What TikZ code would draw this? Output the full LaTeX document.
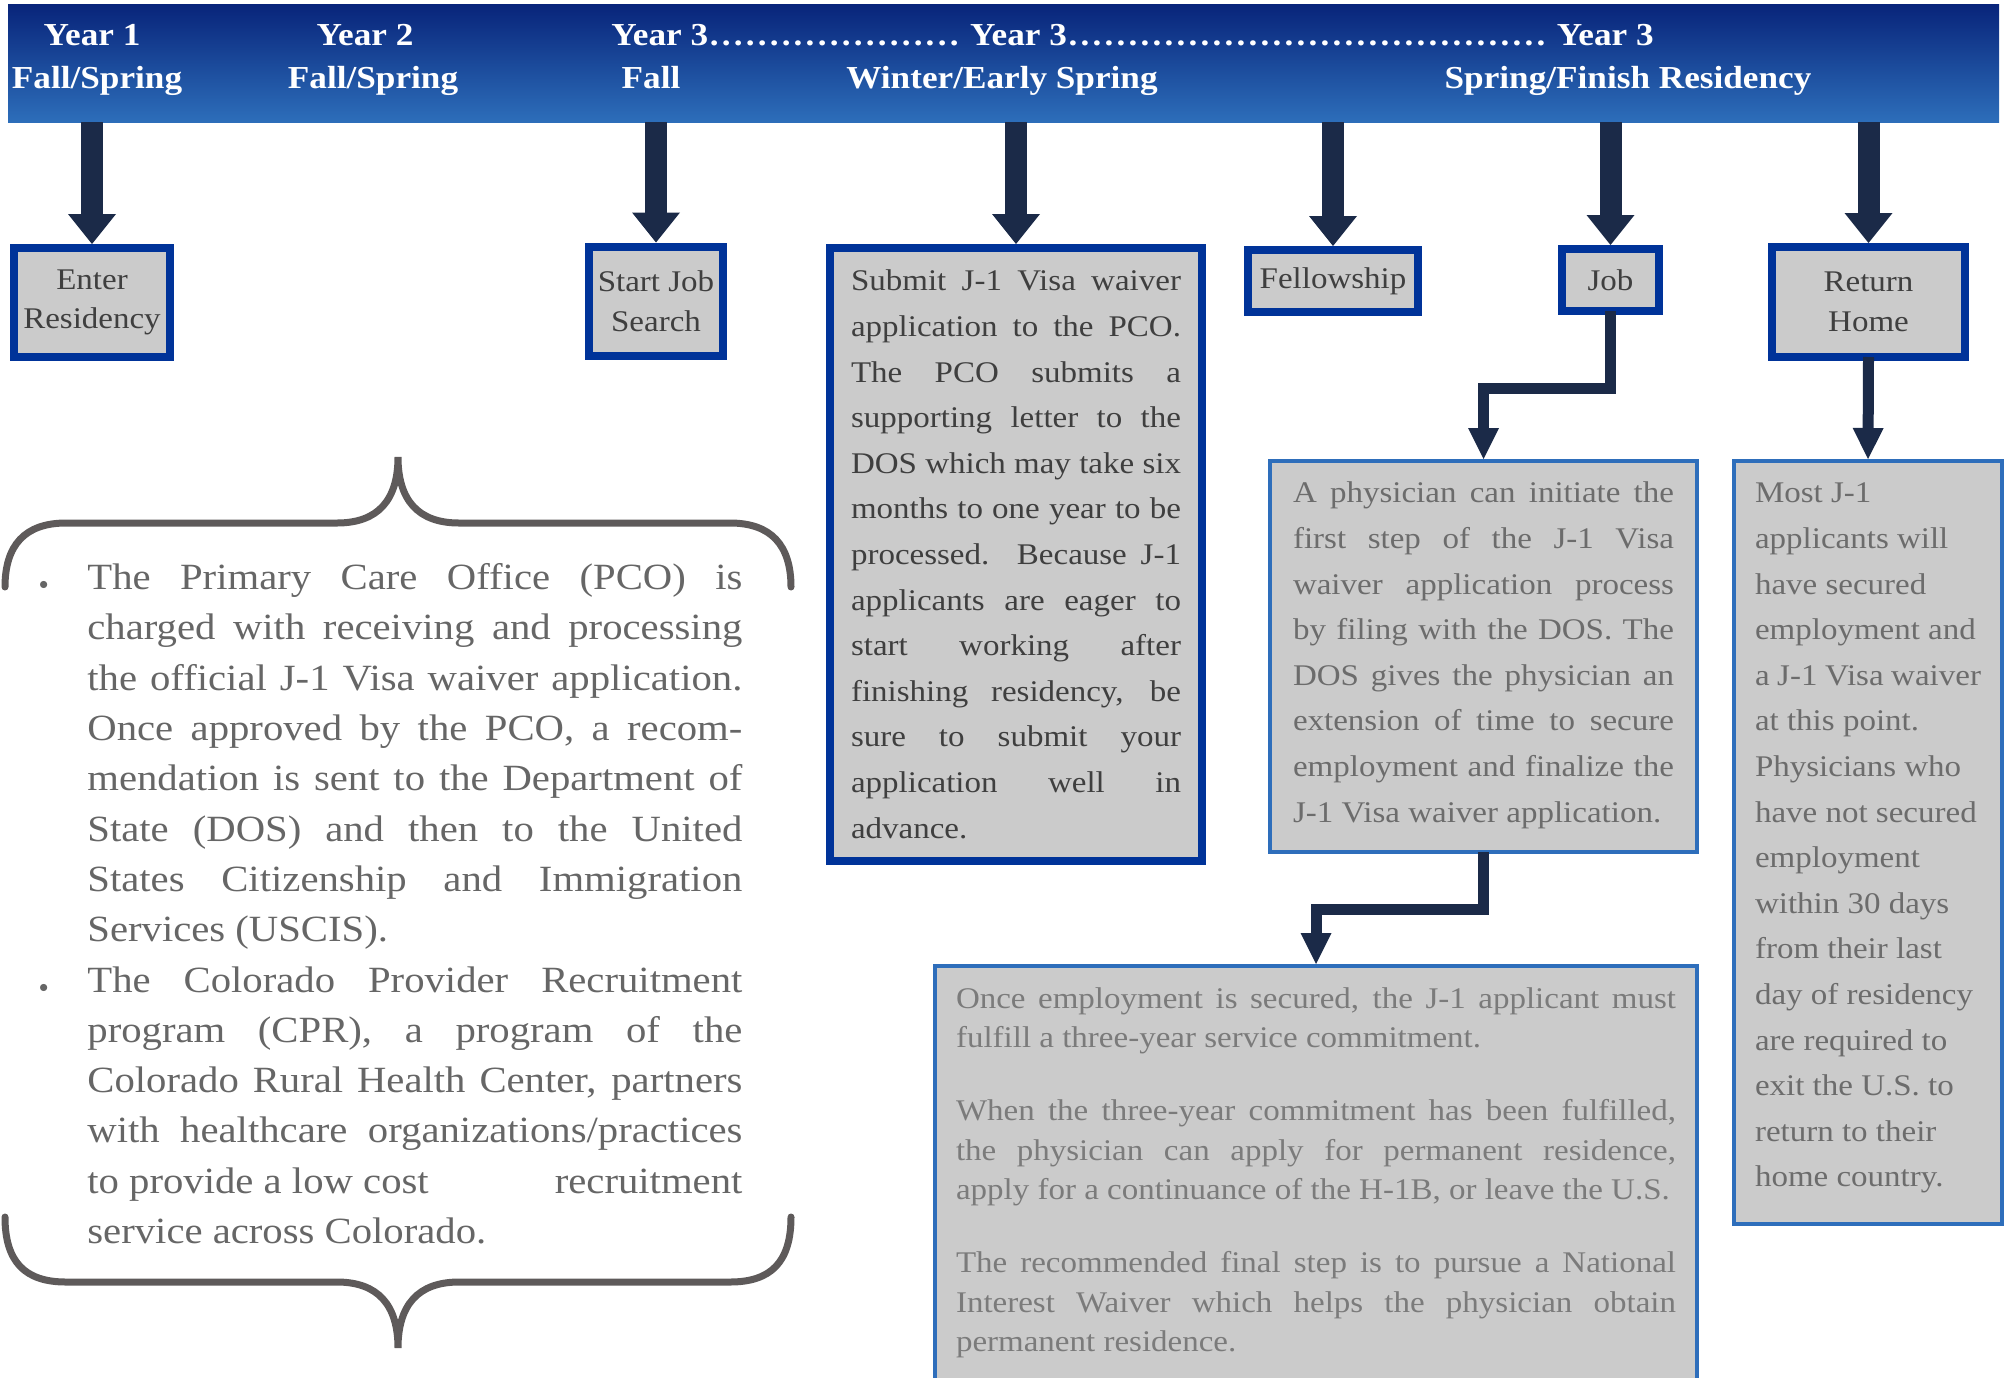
\documentclass[tikz,border=0pt]{standalone}
\usepackage{fontspec}
\setmainfont{Liberation Serif}[FakeStretch=1.1]
\usetikzlibrary{arrows.meta, calc}
\definecolor{navy}{HTML}{1B2A48}
\definecolor{boxblue}{HTML}{003399}
\definecolor{lightblue}{HTML}{2E6EBB}
\definecolor{boxgray}{HTML}{CBCBCB}
\definecolor{hdrtop}{HTML}{08247A}
\definecolor{hdrbot}{HTML}{2D6EBA}
\definecolor{bracegray}{HTML}{5E5A5A}
\definecolor{darktext}{HTML}{3F3F3F}
\definecolor{midtext}{HTML}{6C6C6C}
\definecolor{softtext}{HTML}{7B7B7B}
\definecolor{notetext}{HTML}{666666}
\tolerance=10000
\hyphenpenalty=10000
\exhyphenpenalty=10000
\newcommand\hdrdots[1]{\hbox to #1{\leaders\hbox to 6pt{\hss.\hss}\hfill}}
\newcommand\boxtxt[3]{\begin{minipage}[t][#2][t]{#1}\strut #3\end{minipage}}
\newcommand\smallbullet{${\scriptscriptstyle\bullet}$}

\begin{document}
\begin{tikzpicture}[x=0.5pt, y=0.5pt,
  hdr/.style={text=white, font=\fontsize{16}{16}\selectfont\bfseries, inner sep=0},
  bigbox/.style={draw=boxblue, line width=4pt, outer sep=0, fill=boxgray, text=darktext, align=center,
    font=\fontsize{15}{19.8}\selectfont, inner sep=0},
  tallbox/.style={draw=boxblue, line width=4pt, outer sep=0, fill=boxgray, text=darktext, anchor=north west,
    font=\fontsize{15}{22.8}\selectfont},
  txtbox/.style={draw=lightblue, line width=2pt, outer sep=0, fill=boxgray, text=midtext, anchor=north west,
    font=\fontsize{15}{22.8}\selectfont},
  bigarrow/.style={navy, line width=11pt, -{Triangle[width=24pt, length=15pt, line width=0pt]}, shorten >=2pt},
  elbow/.style={navy, line width=5.5pt, line join=miter, -{Triangle[width=15.5pt, length=15.5pt, line width=0pt]}, shorten >=1pt},
  brace/.style={bracegray, line width=3.5pt, line cap=round}]

\useasboundingbox (0,0) rectangle (2007,-1377);

% header bar
\node[shade, top color=hdrtop, bottom color=hdrbot, minimum width=995.5pt, minimum height=59pt, inner sep=0, outer sep=0] (bar) at (1003.5,-63) {};
\node[hdr, anchor=base] (y1) at (92,-45) {Year 1};
\node[hdr, anchor=base] (s1) at (97,-88) {Fall/Spring};
\node[hdr, anchor=base] (y2) at (365,-45) {Year 2};
\node[hdr, anchor=base] (s2) at (373,-88) {Fall/Spring};
\node[hdr, anchor=base west] (y3) at (611,-45) {Year 3\hdrdots{131pt}Year 3\hdrdots{245pt}Year 3};
\node[hdr, anchor=base] (s3) at (651,-88) {Fall};
\node[hdr, anchor=base] (s4) at (1002,-88) {Winter/Early Spring};
\node[hdr, anchor=base] (s5) at (1628,-88) {Spring/Finish Residency};

% steps
\node[bigbox, minimum width=78pt, minimum height=54.5pt] (enter) at (92,-302.5) {Enter\\Residency};
\node[bigbox, minimum width=67pt, minimum height=54.5pt] (jobsearch) at (656,-301) {Start Job\\Search};
\node[bigbox, minimum width=85pt, minimum height=31pt] (fellow) at (1333,-281) {Fellowship};
\node[bigbox, minimum width=48.5pt, minimum height=31pt] (job) at (1610.5,-280) {Job};
\node[bigbox, minimum width=96.5pt, minimum height=55pt] (home) at (1868.5,-302) {Return\\Home};

\node[tallbox, inner xsep=10.5pt, inner ysep=5.5pt] (submit) at (830,-248) {\boxtxt{165pt}{295.5pt}{%
Submit J-1 Visa waiver\linebreak application to the PCO.\linebreak The PCO submits a\linebreak
supporting letter to the\linebreak DOS which may take six\linebreak months to one year to be\linebreak
processed. Because J-1\linebreak applicants are eager to\linebreak start working after\linebreak
finishing residency, be\linebreak sure to submit your\linebreak application well in\linebreak advance.}};

\node[txtbox, inner xsep=11.5pt, inner ysep=5pt] (physician) at (1270,-461) {\boxtxt{190.5pt}{185.5pt}{%
A physician can initiate the\linebreak first step of the J-1 Visa\linebreak waiver application process\linebreak
by filing with the DOS. The\linebreak DOS gives the physician an\linebreak extension of time to secure\linebreak
employment and finalize the\linebreak J-1 Visa waiver application.}};

\node[txtbox, inner xsep=10.5pt, inner ysep=5pt] (most) at (1734,-461) {\boxtxt{113pt}{371.5pt}{\raggedright
Most J-1\\ applicants will\\ have secured\\ employment and\\ a J-1 Visa waiver\\ at this point.\\
Physicians who\\ have not secured\\ employment\\ within 30 days\\ from their last\\ day of residency\\
are required to\\ exit the U.S. to\\ return to their\\ home country.}};

\node[txtbox, text=softtext, font=\fontsize{15}{19.7}\selectfont, inner xsep=10.5pt, inner ysep=7.5pt] (commit) at (935,-966) {\boxtxt{360pt}{212pt}{\setlength\parskip{16.8pt}%
Once employment is secured, the J-1 applicant must\linebreak fulfill a three-year service commitment.\par
When the three-year commitment has been fulfilled,\linebreak the physician can apply for permanent residence,\linebreak
apply for a continuance of the H-1B, or leave the U.S.\par
The recommended final step is to pursue a National\linebreak Interest Waiver which helps the physician obtain\linebreak
permanent residence.}};

% arrows
\draw[bigarrow] (bar.south -| enter.north) -- (enter.north);
\draw[bigarrow] (bar.south -| jobsearch.north) -- (jobsearch.north);
\draw[bigarrow] (bar.south -| submit.north) -- (submit.north);
\draw[bigarrow] (bar.south -| fellow.north) -- (fellow.north);
\draw[bigarrow] (bar.south -| job.north) -- (job.north);
\draw[bigarrow] (bar.south -| home.north) -- (home.north);
\draw[elbow] (job.south) -- ++(0,-77) -| (physician.north);
\draw[elbow] (home.south) -- (most.north);
\draw[elbow] (physician.south) -- ++(0,-57) -| (commit.north);

% notes
\draw[brace] (5,-587) .. controls (5,-545) and (25,-523) .. (66,-523) -- (337,-523)
  .. controls (378,-523) and (398,-500) .. (398,-457)
  .. controls (398,-500) and (418,-523) .. (459,-523) -- (730,-523)
  .. controls (771,-523) and (791,-545) .. (791,-587);
\draw[brace] (5,-1217) .. controls (5,-1262) and (25,-1282) .. (66,-1282) -- (337,-1282)
  .. controls (378,-1282) and (398,-1305) .. (398,-1348)
  .. controls (398,-1305) and (418,-1282) .. (459,-1282) -- (730,-1282)
  .. controls (771,-1282) and (791,-1262) .. (791,-1217);
\node[anchor=north west, inner sep=0, text=notetext, font=\fontsize{18.5}{25.15}\selectfont] (notes) at (20,-554) {%
\begin{minipage}[t]{361pt}\leftskip=33.5pt
\noindent\llap{\smallbullet\hspace{19.5pt}}\strut The Primary Care Office (PCO) is\linebreak
charged with receiving and processing\linebreak the official J-1 Visa waiver application.\linebreak
Once approved by the PCO, a recom-\linebreak mendation is sent to the Department of\linebreak
State (DOS) and then to the United\linebreak States Citizenship and Immigration\linebreak Services (USCIS).\par
\noindent\llap{\smallbullet\hspace{19.5pt}}The Colorado Provider Recruitment\linebreak
program (CPR), a program of the\linebreak Colorado Rural Health Center, partners\linebreak
with healthcare organizations/practices\linebreak to provide a low cost\hfill recruitment\linebreak
service across Colorado.
\end{minipage}};
\end{tikzpicture}
\end{document}
